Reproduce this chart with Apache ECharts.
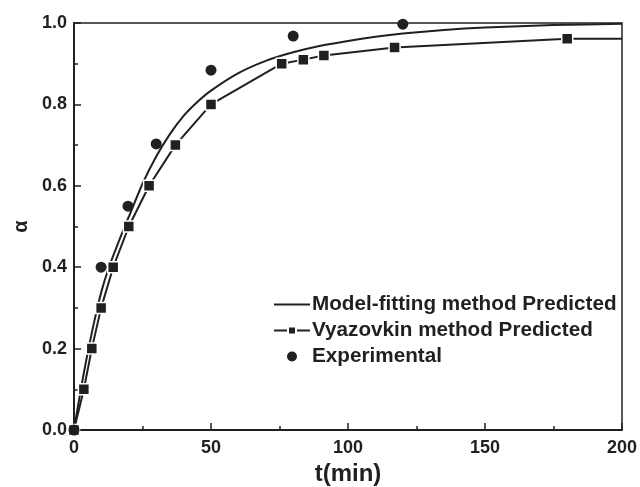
<!DOCTYPE html>
<html><head><meta charset="utf-8">
<script src="https://cdn.jsdelivr.net/npm/echarts@6/dist/echarts.min.js"></script>
<style>html,body{margin:0;padding:0;background:#fff}#c{width:640px;height:487px}</style>
</head><body><div id="c"></div>
<script>
// Model-fitting method predicted curve (t, alpha)
const modelT = [0, 2.5, 5, 7.5, 10, 12.5, 15, 17.5, 20, 25, 30, 35, 40, 45, 50, 60, 70, 80, 90, 100, 110, 120, 135, 150, 175, 200];
const modelA = [0, 0.10, 0.19, 0.27, 0.34, 0.395, 0.44, 0.483, 0.524, 0.605, 0.672, 0.727, 0.772, 0.806, 0.834, 0.877, 0.907, 0.928, 0.944, 0.956, 0.966, 0.974, 0.983, 0.989, 0.995, 0.998];
// Vyazovkin method predicted (t, alpha)
const vyazT = [0, 3.6, 6.5, 9.9, 14.3, 20, 27.4, 37, 50, 75.8, 83.7, 91.2, 117, 180];
const vyazA = [0, 0.1, 0.2, 0.3, 0.4, 0.5, 0.6, 0.7, 0.8, 0.9, 0.91, 0.92, 0.94, 0.961];
const vyazEndT = 200, vyazEndA = 0.961;
// Experimental
const expT = [0, 9.9, 19.7, 30, 50, 80, 120];
const expA = [0, 0.40, 0.55, 0.703, 0.884, 0.968, 0.997];
// Axis ticks
const xMin = 0, xMax = 200, xStep = 50;
const yMin = 0, yMax = 1.0, yStep = 0.2;

const ink = '#231f20';
const font = 'Liberation Sans, Arial, sans-serif';
const chart = echarts.init(document.getElementById('c'), null, {renderer: 'canvas'});
const vyazData = vyazT.map((t, i) => [t, vyazA[i]]);
vyazData.push({value: [vyazEndT, vyazEndA], symbol: 'none'});
chart.setOption({
  animation: false,
  backgroundColor: '#fff',
  grid: {left: 74, right: 18, top: 23, bottom: 57, show: true, borderColor: ink, borderWidth: 1.5,
    containLabel: false, outerBoundsMode: 'none'},
  legend: {
    orient: 'vertical', left: 268, top: 289, itemGap: 5, itemWidth: 36, itemHeight: 10,
    textStyle: {fontFamily: font, fontWeight: 'bold', fontSize: 20.7, color: ink, padding: [0,0,0,-3]},
    data: [
      {name: 'Model-fitting method Predicted', icon: 'path://M0 0L36 0L36 2L0 2Z'},
      {name: 'Vyazovkin method Predicted'},
      {name: 'Experimental', icon: 'circle'}
    ]
  },
  xAxis: {
    type: 'value', min: xMin, max: xMax, interval: xStep,
    name: 't(min)', nameLocation: 'middle', nameGap: 28,
    nameTextStyle: {fontFamily: font, fontWeight: 'bold', fontSize: 24, color: ink},
    axisLine: {lineStyle: {color: ink, width: 2}},
    axisTick: {inside: true, length: 7, lineStyle: {color: ink, width: 1.5}},
    minorTick: {show: true, splitNumber: 2, length: 4, lineStyle: {color: ink, width: 1.5}},
    axisLabel: {fontFamily: font, fontWeight: 'bold', fontSize: 18, color: ink, margin: 9},
    splitLine: {show: false}
  },
  yAxis: {
    type: 'value', min: yMin, max: yMax, interval: yStep,
    name: 'α', nameLocation: 'middle', nameGap: 42, nameRotate: 90,
    nameTextStyle: {fontFamily: font, fontWeight: 'bold', fontSize: 20, color: ink},
    axisLine: {lineStyle: {color: ink, width: 2}},
    axisTick: {inside: true, length: 7, lineStyle: {color: ink, width: 1.5}},
    minorTick: {show: true, splitNumber: 2, length: 4, lineStyle: {color: ink, width: 1.5}},
    axisLabel: {fontFamily: font, fontWeight: 'bold', fontSize: 18, color: ink, margin: 7,
      formatter: v => v.toFixed(1)},
    splitLine: {show: false}
  },
  series: [
    {
      name: 'Model-fitting method Predicted', type: 'line', smooth: 0.2,
      showSymbol: false, symbol: 'none', data: modelT.map((t, i) => [t, modelA[i]]),
      lineStyle: {color: ink, width: 2}, itemStyle: {color: ink}, z: 3
    },
    {
      name: 'Vyazovkin method Predicted', type: 'line', symbol: 'rect', symbolSize: 11,
      data: vyazData,
      lineStyle: {color: ink, width: 2},
      itemStyle: {color: ink, borderColor: '#fff', borderWidth: 1.5}, z: 4
    },
    {
      name: 'Experimental', type: 'scatter', symbol: 'circle', symbolSize: 11,
      data: expT.map((t, i) => [t, expA[i]]),
      itemStyle: {color: ink, opacity: 1}, z: 5
    }
  ]
});
</script></body></html>
